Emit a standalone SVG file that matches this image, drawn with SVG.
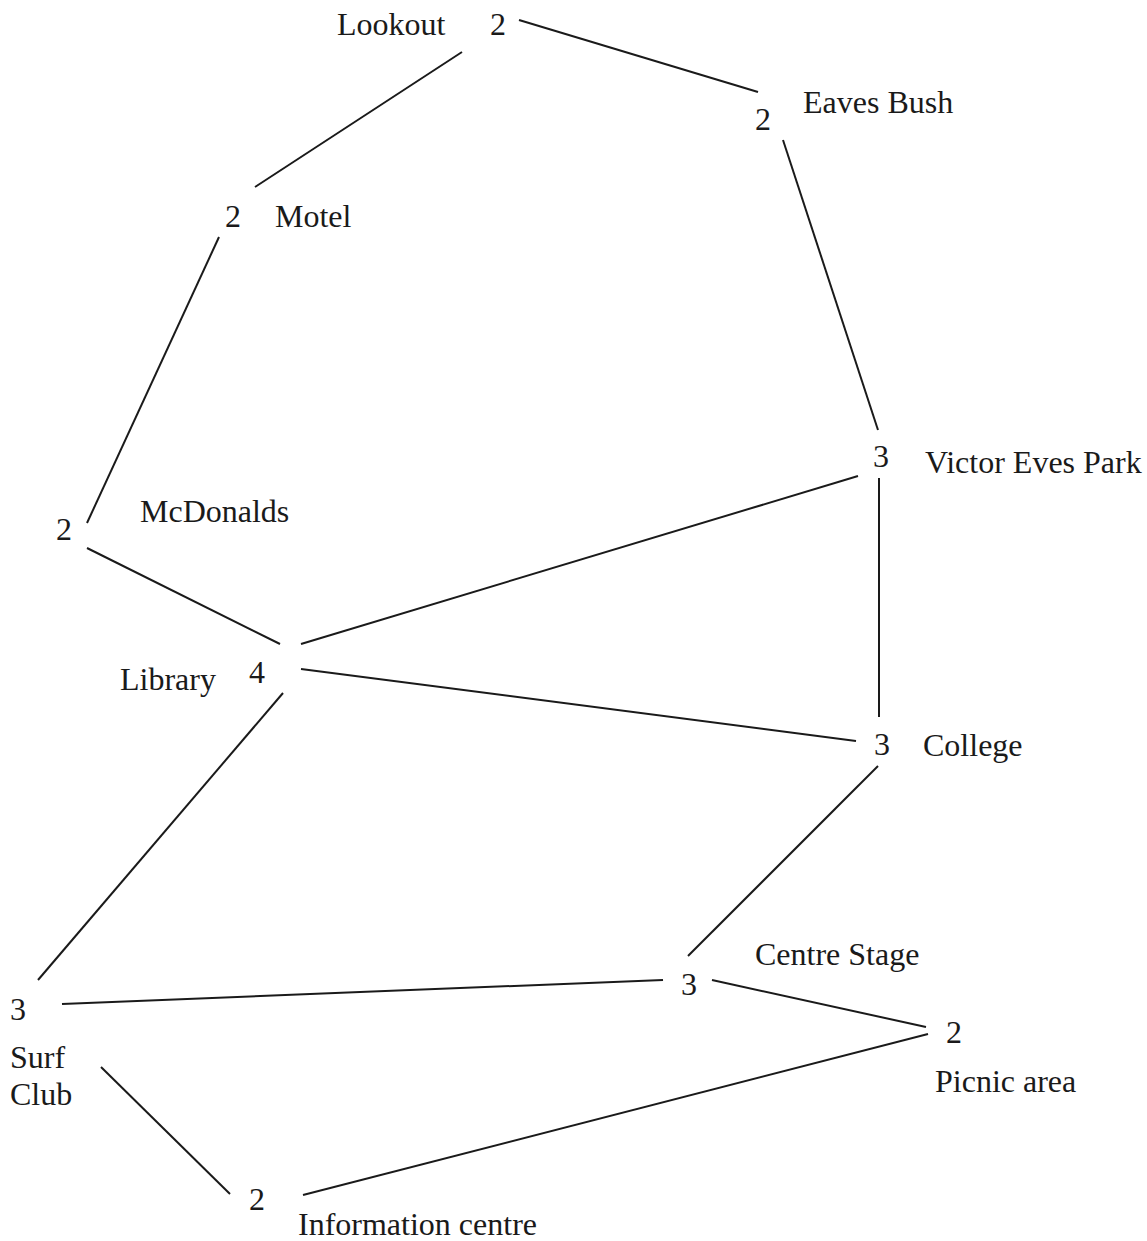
<svg xmlns="http://www.w3.org/2000/svg" width="1147" height="1241" viewBox="0 0 1147 1241">
<style>
text{font-family:"Liberation Serif","Times New Roman",serif;font-size:32px;fill:#1a1a1a}
.e{stroke:#1a1a1a;stroke-width:2;fill:none}
</style>
<rect width="1147" height="1241" fill="#ffffff"/>
<g id="connectors">
<line class="e" x1="519" y1="20" x2="758" y2="92"/>
<line class="e" x1="462" y1="52" x2="255" y2="187"/>
<line class="e" x1="783" y1="140" x2="878" y2="430"/>
<line class="e" x1="219" y1="237" x2="87" y2="523"/>
<line class="e" x1="87" y1="548" x2="280" y2="644"/>
<line class="e" x1="301" y1="644" x2="858" y2="476"/>
<line class="e" x1="301" y1="669" x2="856" y2="741"/>
<line class="e" x1="879" y1="478" x2="879" y2="717"/>
<line class="e" x1="878" y1="766" x2="688" y2="956"/>
<line class="e" x1="283" y1="693" x2="38" y2="980"/>
<line class="e" x1="62" y1="1004" x2="663" y2="980"/>
<line class="e" x1="712" y1="980" x2="926" y2="1027"/>
<line class="e" x1="928" y1="1034" x2="303" y2="1195"/>
<line class="e" x1="101" y1="1067" x2="230" y2="1194"/>
</g>
<g id="lookout"><text x="337" y="35">Lookout</text><text x="490" y="35">2</text></g>
<g id="eaves-bush"><text x="803" y="113">Eaves Bush</text><text x="755" y="130">2</text></g>
<g id="motel"><text x="275" y="227">Motel</text><text x="225" y="227">2</text></g>
<g id="mcdonalds"><text x="140" y="522">McDonalds</text><text x="56" y="540">2</text></g>
<g id="library"><text x="120" y="690">Library</text><text x="249" y="683">4</text></g>
<g id="victor-eves-park"><text x="925" y="473">Victor Eves Park</text><text x="873" y="467">3</text></g>
<g id="college"><text x="923" y="756">College</text><text x="874" y="755">3</text></g>
<g id="surf-club"><text x="10" y="1020">3</text><text x="10" y="1068">Surf</text><text x="10" y="1105">Club</text></g>
<g id="centre-stage"><text x="755" y="965">Centre Stage</text><text x="681" y="995">3</text></g>
<g id="picnic-area"><text x="946" y="1043">2</text><text x="935" y="1092">Picnic area</text></g>
<g id="information-centre"><text x="249" y="1210">2</text><text x="298" y="1235">Information centre</text></g>
</svg>
